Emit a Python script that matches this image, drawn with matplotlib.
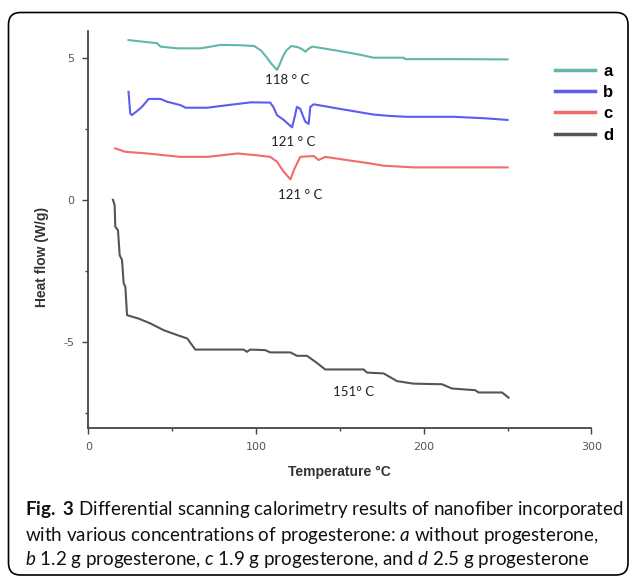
import matplotlib
matplotlib.use('Agg')
import matplotlib.pyplot as plt
from matplotlib.patches import FancyBboxPatch
from matplotlib.transforms import IdentityTransform

# DSC curves (temperature in deg C, heat flow in W/g)
temp_a = [24, 30, 41, 43, 53, 67, 79, 90, 99, 103, 106, 109, 112.5, 114, 116, 118, 121, 125, 127.5, 129.5,
          131, 133.5, 140, 146, 152, 158, 164, 170, 180, 188, 189, 200, 220, 250]
hf_a = [5.62, 5.58, 5.51, 5.39, 5.33, 5.33, 5.45, 5.44, 5.41, 5.25, 5.04, 4.80, 4.57, 4.75, 5.04, 5.25, 5.41,
        5.37, 5.30, 5.21, 5.30, 5.39, 5.33, 5.27, 5.21, 5.15, 5.08, 5.0, 5.0, 5.0, 4.95, 4.95, 4.95, 4.94]

temp_b = [24, 25, 26, 29, 32, 36, 43, 47, 55, 58, 71, 83, 97, 108.5, 110.5, 112.5, 116.5, 121.5, 123, 124.4,
          126.4, 128, 129.4, 131.4, 132.4, 134.4, 146, 158, 170, 180, 190, 218, 236, 250]
hf_b = [3.80, 3.04, 2.98, 3.12, 3.27, 3.55, 3.55, 3.45, 3.33, 3.24, 3.24, 3.33, 3.43, 3.42, 3.25, 2.98, 2.81,
        2.55, 2.90, 3.27, 3.20, 2.95, 2.75, 2.67, 3.27, 3.36, 3.24, 3.12, 3.0, 2.95, 2.92, 2.92, 2.87, 2.81]

temp_c = [16, 22, 35, 45, 55, 71, 89, 100, 108.5, 112.5, 116.5, 120.5, 123, 126.4, 134.4, 137.3, 141.3, 154,
          168, 176, 194, 220, 250]
hf_c = [1.81, 1.69, 1.63, 1.57, 1.51, 1.51, 1.63, 1.57, 1.51, 1.34, 0.99, 0.72, 1.10, 1.51, 1.54, 1.40, 1.51,
        1.40, 1.28, 1.20, 1.14, 1.14, 1.14]

temp_d = [14.7, 15.7, 16.1, 17.7, 18.7, 20.1, 21.1, 22.1, 23.1, 30, 37, 45, 53, 59, 63.8, 92.6, 94.6, 96.6,
          105.5, 108.5, 120.5, 124.4, 130.4, 135.4, 141.3, 164.2, 166.2, 176.1, 184.1, 194, 210.9, 216.8,
          230.7, 232.7, 246.7, 250.6]
hf_d = [0.0, -0.19, -0.95, -1.07, -1.95, -2.12, -2.94, -3.06, -4.06, -4.18, -4.35, -4.59, -4.76, -4.88, -5.27,
        -5.27, -5.35, -5.27, -5.29, -5.37, -5.37, -5.49, -5.49, -5.70, -5.97, -5.97, -6.08, -6.11, -6.38,
        -6.47, -6.49, -6.64, -6.70, -6.78, -6.78, -6.96]

labels = ['a', 'b', 'c', 'd']
colors = ['#62b5aa', '#5b5cf2', '#f26a6a', '#555555']

# peak annotations: (text, temperature, heat flow)
peaks = [('118 ° C', 118.4, 4.21), ('121 ° C', 122.4, 2.04), ('121 ° C', 126.4, 0.17), ('151° C', 158.2, -6.76)]

caption = [r'$\mathbf{Fig.\ 3}$ Differential scanning calorimetry results of nanofiber incorporated',
           r'with various concentrations of progesterone: $\mathit{a}$ without progesterone,',
           r'$\mathit{b}$ 1.2 g progesterone, $\mathit{c}$ 1.9 g progesterone, and $\mathit{d}$ 2.5 g progesterone']

plt.rcParams['mathtext.fontset'] = 'custom'
plt.rcParams['mathtext.rm'] = 'Lato'
plt.rcParams['mathtext.it'] = 'Lato:italic'
plt.rcParams['mathtext.bf'] = 'Lato:bold'
plt.rcParams['axes.unicode_minus'] = False

W, H = 629, 578
fig = plt.figure(figsize=(W / 100, H / 100), dpi=100)
ax = fig.add_axes([88.3 / W, 1 - 428 / H, (591.4 - 88.3) / W, (428 - 30.7) / H])

series = [(temp_a, hf_a), (temp_b, hf_b), (temp_c, hf_c), (temp_d, hf_d)]
for (t, h), lab, col in zip(series, labels, colors):
    ax.plot(t, h, color=col, lw=1.5, label=lab)

for txt, t, h in peaks:
    ax.text(t, h, txt, ha='center', va='center', fontsize=9.5, family='Lato', color='#222222')

ax.set_xlim(0, 300)
ax.set_ylim(-8.03, 5.95)
ax.set_xticks([0, 100, 200, 300])
ax.set_xticks([50, 150, 250], minor=True)
ax.set_yticks([-5, 0, 5])
ax.set_yticks([-7.5, -2.5, 2.5], minor=True)
for s in ['top', 'right']:
    ax.spines[s].set_visible(False)
for s in ['left', 'bottom']:
    ax.spines[s].set_color('#444444')
    ax.spines[s].set_linewidth(1.3)
ax.tick_params(which='major', length=4, width=1, color='#444444', labelsize=8, labelcolor='#555555', pad=6)
ax.tick_params(which='minor', length=2.5, width=1, color='#444444')

fig.text(339 / W, 1 - 471.7 / H, 'Temperature °C', ha='center', va='center', fontsize=10,
         family='Liberation Sans', weight='bold', color='#333333')
fig.text(41.7 / W, 1 - 256.7 / H, 'Heat flow (W/g)', ha='center', va='center', rotation=90, fontsize=10,
         family='Liberation Sans', weight='bold', color='#333333')

leg = ax.legend(loc='upper left', bbox_to_anchor=(540 / W, 1 - 49 / H), bbox_transform=fig.transFigure,
                frameon=False, handlelength=2.4, handletextpad=0.5, labelspacing=0.37,
                prop={'family': 'Liberation Sans', 'weight': 'bold', 'size': 12})
for line in leg.get_lines():
    line.set_linewidth(2.5)

# caption below the chart, fitted to the original line width
cap_texts = [fig.text(25 / W, 1 - y / H, line, ha='left', va='center', fontsize=12, family='Lato', color='#111111')
             for line, y in zip(caption, [509, 535, 560])]
renderer = fig.canvas.get_renderer()
w0 = cap_texts[0].get_window_extent(renderer=renderer).width
for t in cap_texts:
    t.set_fontsize(12 * 598 / w0)

# rounded frame around the figure
frame = FancyBboxPatch((8.5, 3), 619.5, 562.5, boxstyle='round,pad=0,rounding_size=12',
                       transform=IdentityTransform(), fill=False, edgecolor='black', lw=1.2)
fig.patches.append(frame)

fig.savefig('out.png', dpi=100)
